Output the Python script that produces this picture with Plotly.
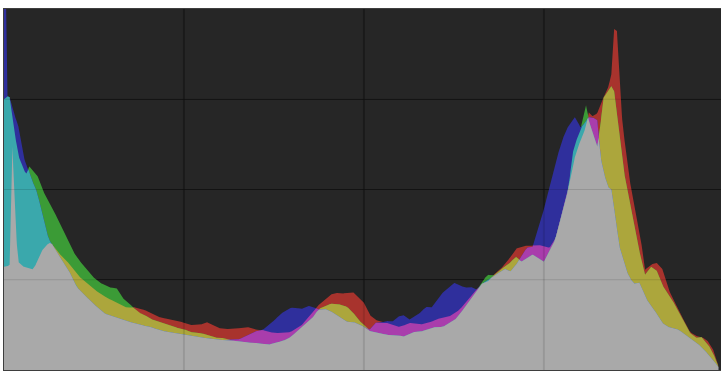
import numpy as np
import plotly.graph_objects as go

# Histogram bin positions (0-255 intensity scale)
bins = [0, 1, 2, 3, 4, 5, 6, 7, 8, 9, 10, 11, 12, 13, 14, 15, 16, 17, 18, 19, 20,
        22, 24, 26, 28, 30, 32, 34, 36, 38, 40, 42, 44, 46, 48, 50, 52, 54, 56, 58,
        60, 62, 64, 66, 68, 70, 72, 74, 76, 78, 80, 82, 84, 86, 88, 90, 92, 94, 96,
        98, 100, 102, 104, 106, 108, 110, 112, 114, 116, 118, 120, 122, 124, 126,
        128, 130, 132, 134, 136, 138, 140, 142, 144, 146, 148, 150, 152, 154, 156,
        158, 160, 162, 164, 166, 168, 170, 172, 174, 176, 178, 180, 182, 184, 186,
        188, 190, 192, 194, 196, 198, 200, 201, 202, 203, 204, 205, 206, 207, 208,
        209, 210, 211, 212, 213, 214, 215, 216, 217, 218, 219, 220, 221, 222, 223,
        224, 226, 228, 230, 232, 234, 236, 238, 240, 242, 244, 246, 248, 250, 252, 254]

red = [103, 103, 105, 223, 150, 108, 105, 103, 102, 101, 100, 103, 110, 117, 121, 124, 127, 126, 122, 118, 115,
       110, 103, 95, 90, 85, 80, 77, 73, 70, 67, 64, 62, 63, 61, 60, 57, 54, 52, 51,
       50, 49, 47, 45, 45, 45, 48, 45, 42, 41, 41, 41, 42, 43, 42, 40, 40, 38, 37,
       37, 37, 38, 42, 45, 52, 58, 65, 70, 75, 77, 76, 77, 78, 73,
       67, 55, 50, 48, 47, 45, 43, 44, 47, 46, 45, 47, 48, 51, 52,
       53, 56, 60, 67, 74, 80, 86, 88, 95, 99, 105, 112, 121, 123, 124,
       124, 125, 123, 122, 130, 152, 172, 185, 195, 212, 222, 228, 235, 243, 257,
       253, 254, 256, 264, 271, 276, 283, 295, 340, 338, 282, 245, 222, 197, 182,
       168, 140, 100, 105, 107, 102, 83, 70, 60, 48, 38, 34, 33, 30, 22, 5]

green = [270, 273, 272, 250, 233, 215, 207, 199, 196, 203, 200, 197, 193, 185, 178, 173, 167, 162, 157, 151, 145,
         133, 121, 112, 105, 98, 92, 87, 85, 82, 82, 72, 68, 62, 57, 55, 51, 49, 47, 45,
         43, 42, 41, 38, 37, 37, 35, 33, 32, 32, 30, 29, 28, 28, 27, 27, 26, 25, 27,
         28, 30, 33, 38, 42, 47, 53, 61, 63, 66, 66, 65, 63, 58, 50,
         45, 39, 38, 37, 35, 35, 35, 33, 36, 38, 38, 40, 42, 43, 43,
         46, 49, 55, 63, 70, 79, 88, 95, 94, 98, 103, 107, 113, 108, 112,
         115, 112, 108, 118, 130, 150, 172, 186, 213, 225, 232, 240, 252, 264, 248,
         240, 232, 223, 240, 270, 275, 279, 283, 278, 255, 228, 205, 190, 178, 160,
         145, 118, 95, 103, 100, 85, 77, 68, 58, 47, 37, 32, 33, 27, 18, 4]

blue = [500, 273, 272, 261, 252, 245, 228, 213, 203, 198, 188, 183, 175, 163, 150, 140, 130, 126, 121, 116, 112,
        104, 94, 82, 77, 71, 65, 61, 56, 54, 52, 50, 48, 47, 46, 44, 43, 41, 39, 38,
        37, 36, 35, 34, 33, 32, 32, 31, 30, 30, 30, 30, 31, 34, 37, 39, 40, 45, 49,
        55, 59, 62, 62, 61, 64, 63, 60, 61, 59, 55, 51, 48, 48, 46,
        43, 40, 47, 47, 49, 48, 53, 55, 50, 53, 57, 63, 62, 70, 77,
        82, 87, 85, 82, 83, 80, 86, 90, 93, 97, 101, 98, 104, 114, 122,
        123, 143, 160, 183, 205, 225, 240, 244, 248, 252, 248, 242, 244, 249, 252,
        252, 251, 249, 215, 200, 190, 182, 180, 163, 140, 122, 112, 102, 95, 90,
        86, 87, 73, 64, 57, 47, 43, 42, 40, 36, 32, 28, 23, 17, 11, 3]

# Channel colours and the colours of their overlaps
COL_R = "#a8332d"
COL_G = "#3b9b36"
COL_B = "#2f2f9c"
COL_RG = "#aca63c"
COL_RB = "#a93dac"
COL_GB = "#3aa8ac"
COL_RGB = "#a9a9a9"

x_ticks = [64, 128, 192]
y_ticks = [90, 180, 270]

# Resample onto a fine grid so overlaps switch colour exactly at crossings
xf = np.linspace(0, bins[-1], 2033)
r = np.interp(xf, bins, red)
g = np.interp(xf, bins, green)
b = np.interp(xf, bins, blue)

layers = [
    (r, COL_R), (g, COL_G), (b, COL_B),
    (np.minimum(r, g), COL_RG), (np.minimum(r, b), COL_RB), (np.minimum(g, b), COL_GB),
    (np.minimum(np.minimum(r, g), b), COL_RGB),
]

fig = go.Figure()
for vals, col in layers:
    fig.add_trace(go.Scatter(
        x=xf, y=vals, mode="lines", fill="tozeroy",
        line=dict(width=0, color=col), fillcolor=col,
        hoverinfo="skip", showlegend=False,
    ))

# faint grid drawn over the filled areas
for xv in x_ticks:
    fig.add_shape(type="line", xref="x", yref="paper", x0=xv, x1=xv, y0=0, y1=1,
                  line=dict(color="rgba(0,0,0,0.10)", width=2), layer="above")
for yv in y_ticks:
    fig.add_shape(type="line", xref="paper", yref="y", x0=0, x1=1, y0=yv, y1=yv,
                  line=dict(color="rgba(0,0,0,0.12)", width=1), layer="above")

fig.update_layout(
    width=721, height=373,
    margin=dict(l=4, r=0, t=9, b=3, pad=0),
    paper_bgcolor="white", plot_bgcolor="#262626",
    showlegend=False,
    xaxis=dict(range=[0, 255], tickvals=x_ticks, showticklabels=False, ticks="",
               showgrid=True, gridcolor="#1e1e1e", gridwidth=2, zeroline=False,
               showline=True, linecolor="#3e3e3e", linewidth=1, mirror=True,
               fixedrange=True),
    yaxis=dict(range=[0, 360], tickvals=y_ticks, showticklabels=False, ticks="",
               showgrid=True, gridcolor="#161616", gridwidth=1, zeroline=False,
               showline=True, linecolor="#3e3e3e", linewidth=1, mirror=True,
               fixedrange=True),
)

fig.write_html("out.html", config={"displayModeBar": False})
